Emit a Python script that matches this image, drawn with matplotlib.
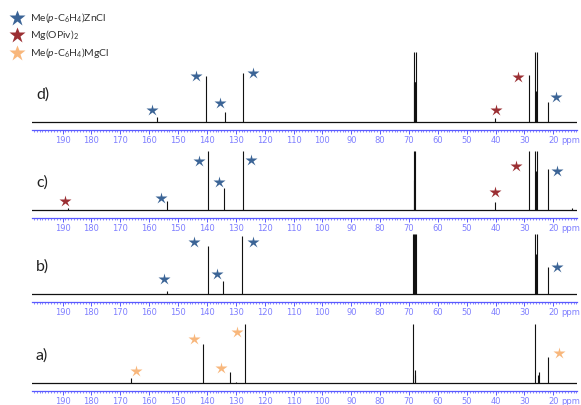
import matplotlib.pyplot as plt
from matplotlib.ticker import MultipleLocator

plt.rcParams['font.family'] = ['Lato', 'DejaVu Sans']
plt.rcParams['mathtext.fontset'] = 'custom'
plt.rcParams['mathtext.rm'] = 'Lato'
plt.rcParams['mathtext.it'] = 'Lato:italic'

# 13C shifts (ppm) and peak intensities for each spectrum
d_ppm = [157.2, 140.4, 133.8, 127.5, 68.4, 68.2, 68.0, 67.8, 67.6, 40.3, 28.4, 26.3, 26.0, 25.6, 21.8]
d_int = [5, 46, 10, 49, 70, 40, 40, 40, 70, 4, 47, 70, 31, 70, 20]

c_ppm = [188.2, 154.0, 139.7, 134.2, 127.5, 68.4, 68.1, 67.8, 40.2, 28.4, 26.3, 25.9, 25.6, 21.8, 13.4]
c_int = [2, 9, 59, 22, 59, 59, 30, 59, 8, 59, 59, 39, 59, 41, 2]

b_ppm = [153.7, 139.7, 134.5, 127.9, 68.5, 68.2, 67.9, 67.6, 26.3, 25.9, 25.5, 21.8]
b_int = [3, 48, 13, 58, 60, 60, 60, 60, 60, 40, 60, 27]

a_ppm = [166.3, 141.5, 132.0, 130.0, 126.8, 68.5, 68.0, 67.8, 26.3, 25.3, 25.0, 21.8]
a_int = [5, 39, 11, 1, 59, 59, 8, 13, 59, 8, 11, 26]

# assignment stars: (ppm, height, species)
d_stars = [(159.2, 12, 'zn'), (143.9, 46, 'zn'), (135.5, 19, 'zn'), (124.0, 49, 'zn'),
           (39.7, 12, 'mg'), (32.1, 45, 'mg'), (19.2, 25, 'zn')]
c_stars = [(189.1, 9, 'mg'), (156.0, 12, 'zn'), (142.8, 49, 'zn'), (135.8, 28, 'zn'),
           (124.7, 50, 'zn'), (40.1, 18, 'mg'), (32.8, 44, 'mg'), (18.8, 39, 'zn')]
b_stars = [(155.0, 15, 'zn'), (144.5, 52, 'zn'), (136.5, 20, 'zn'), (124.0, 52, 'zn'),
           (18.8, 27, 'zn')]
a_stars = [(164.4, 12, 'grig'), (144.5, 44, 'grig'), (135.1, 15, 'grig'), (129.6, 51, 'grig'),
           (18.1, 30, 'grig')]

star_colors = {'zn': '#3b6496', 'mg': '#9b2f33', 'grig': '#f8b77c'}
legend_labels = [('zn', r'Me($\it{p}$-C$_6$H$_4$)ZnCl'),
                 ('mg', r'Mg(OPiv)$_2$'),
                 ('grig', r'Me($\it{p}$-C$_6$H$_4$)MgCl')]

W, H = 581, 405
fig = plt.figure(figsize=(W / 100, H / 100), dpi=100)

panels = [
    ('d)', d_ppm, d_int, d_stars, 130),
    ('c)', c_ppm, c_int, c_stars, 218),
    ('b)', b_ppm, b_int, b_stars, 302),
    ('a)', a_ppm, a_int, a_stars, 391),
]

x0, x1 = 32, 577
ax_h = 80
tick_blue = '#5a5aff'
label_blue = '#7f7fff'
for label, ppm, inten, stars, ruler_y in panels:
    ax = fig.add_axes([x0 / W, 1 - ruler_y / H, (x1 - x0) / W, ax_h / H])
    ax.set_xlim(200.6, 11.8)
    ax.set_ylim(-8, ax_h - 8)
    ax.axhline(0, color='#111111', lw=0.9)
    ax.vlines(ppm, 0, inten, color='#111111', lw=0.8)
    for p, h, kind in stars:
        ax.plot(p, h, marker='*', ms=9, color=star_colors[kind], mec='none', clip_on=False)

    for s in ['top', 'left', 'right']:
        ax.spines[s].set_visible(False)
    ax.spines['bottom'].set_color(tick_blue)
    ax.spines['bottom'].set_linewidth(0.9)
    ax.set_yticks([])
    ax.set_xticks(range(20, 200, 10))
    ax.xaxis.set_minor_locator(MultipleLocator(1))
    ax.tick_params(axis='x', which='major', direction='out', length=3, width=0.7,
                   colors=tick_blue, labelcolor=label_blue, labelsize=6, pad=1)
    ax.tick_params(axis='x', which='minor', direction='out', length=1.5, width=0.5,
                   colors=tick_blue)
    for t in ax.get_xticklabels():
        t.set_family('DejaVu Sans')
    ax.annotate('ppm', xy=(14.0, 0), xycoords=('data', 'axes fraction'),
                xytext=(0, -4), textcoords='offset points', fontsize=6,
                family='DejaVu Sans', color=label_blue, ha='center', va='top')
    ax.patch.set_alpha(0)

    fig.text(36 / W, 1 - (ruler_y - 35) / H, label, fontsize=11.5, color='#222222',
             ha='left', va='center')

# legend in the top-left corner
for i, (kind, text) in enumerate(legend_labels):
    y = [18, 35, 53][i]
    fig.lines.append(plt.Line2D([17 / W], [1 - y / H], marker='*', ms=12,
                                color=star_colors[kind], mec='none',
                                transform=fig.transFigure))
    fig.text(30 / W, 1 - y / H, text, fontsize=7.5, color='#333333', ha='left', va='center')

fig.savefig('out.png', dpi=100)
